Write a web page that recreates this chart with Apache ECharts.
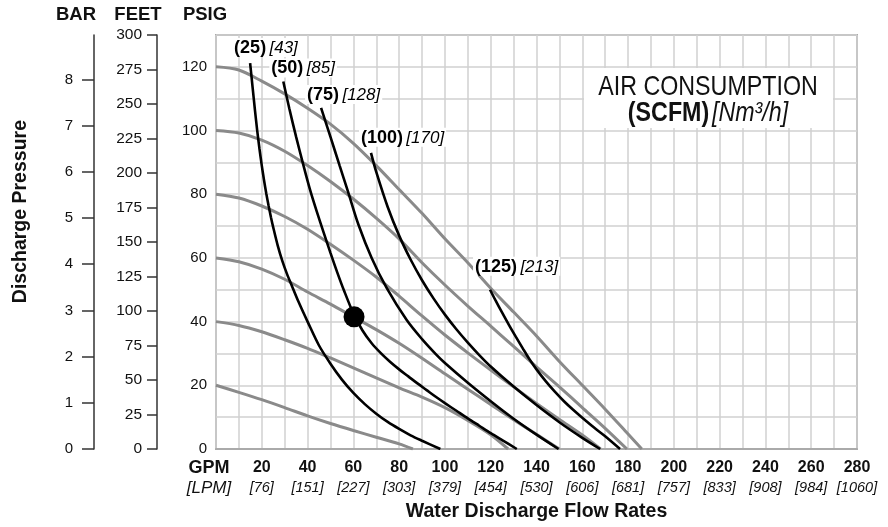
<!DOCTYPE html>
<html>
<head>
<meta charset="utf-8">
<script src="https://cdn.jsdelivr.net/npm/echarts@6/dist/echarts.min.js"></script>
<style>html,body{margin:0;padding:0;background:#fff}#c{width:888px;height:527px}</style>
</head>
<body>
<div id="c"></div>
<script>
// ---- data ----
const gpmTickLabels = [20, 40, 60, 80, 100, 120, 140, 160, 180, 200, 220, 240, 260, 280];
const lpmTickLabels = ['[76]', '[151]', '[227]', '[303]', '[379]', '[454]', '[530]', '[606]', '[681]', '[757]', '[833]', '[908]', '[984]', '[1060]'];
const psiTickLabels = [0, 20, 40, 60, 80, 100, 120];
const barTickLabels = [0, 1, 2, 3, 4, 5, 6, 7, 8];

// gray air-inlet pressure curves (PSIG)
const press120 = [[0,120],[10,119],[20,115.5],[30,111.5],[40,107],[50,102],[60,96],[70,89],[80,81.5],[90,74],[100,66],[110,58.5],[120,50.5],[130,43],[140,35.5],[150,27.5],[160,20],[170,12.5],[180,4.7],[186,0]];
const press100 = [[0,100],[10,99.2],[20,97],[30,93.5],[40,89],[50,84],[60,78.5],[70,72.5],[80,66],[90,58.5],[100,51.5],[110,44.9],[120,38.6],[130,32.2],[140,25.8],[150,19.5],[160,13],[170,6.5],[179.5,0]];
const press80 = [[0,80],[10,78.8],[20,76.3],[30,73],[40,69],[50,64.3],[60,59.3],[70,54],[80,48],[90,41.8],[100,35.8],[110,30.2],[120,24.8],[130,19.5],[140,14.3],[150,9.3],[160,4.4],[168,0]];
const press60 = [[0,60],[10,58.8],[20,56.5],[30,53.3],[40,49.3],[50,45.5],[60,41.5],[70,37.5],[80,33.2],[90,28.5],[100,23.6],[110,18.8],[120,14],[130,9.2],[140,4.6],[150,0]];
const press40 = [[0,40],[10,38.8],[20,36.8],[30,34.3],[40,31.6],[50,28.6],[60,25.5],[70,22.3],[80,19.2],[90,16.3],[100,13],[110,9],[120,4.5],[127.6,0]];
const press20 = [[0,20],[10,17.8],[20,15.5],[30,13],[40,10.4],[50,8],[60,5.8],[70,3.7],[80,1.6],[86,0]];

// black air consumption curves (SCFM)
const air25 = [[14.9,121.2],[16,113.5],[17,106.5],[18,100],[19,94.2],[20,89],[21,84.3],[22,80.1],[23,76.3],[24,72.8],[25,69.6],[27,63.8],[29,59],[31,55],[33,51.5],[36,46.3],[40,40],[45,32.5],[50,26.8],[55,21.8],[60,17.6],[65,14.1],[70,11.1],[75,8.5],[80,6.3],[85,4.3],[90,2.6],[98,0]];
const air50 = [[29.4,115.4],[32,107],[35,98],[38,89.6],[41,81.6],[44,74.6],[47,68],[50,61.6],[53,55.4],[56,49.6],[60,42.6],[64,37.2],[68,33.2],[72,30.1],[76,27.4],[80,25],[84,22.8],[88,20.6],[92,18.5],[96,16.4],[100,14.4],[105,12],[110,9.6],[115,7.3],[120,5],[125,2.8],[131.4,0]];
const air75 = [[45.9,107.1],[50,98],[54,89],[57.8,80.5],[62.2,70.5],[68,60],[74.6,50.5],[83.3,40.5],[90,34.5],[96,29.8],[100,27],[110,20.8],[120,15],[130,9.5],[140,4.5],[149.6,0]];
const air100 = [[67.7,93],[70,87],[75,76],[80,67],[85,59.5],[90,53],[95,47.3],[100,42.2],[105,37.6],[110,33.4],[115,29.5],[120,25.9],[130,19.6],[140,13.8],[150,8.4],[160,3.5],[167.8,0]];
const air125 = [[119.7,50],[122,46.8],[125,42.8],[128,38.9],[131,35.2],[134,31.6],[137,28.1],[140,25],[144,21.3],[148,18],[152,15],[156,12.3],[160,9.8],[165,6.8],[170,4],[176.5,0]];

const scfmNames = ['(25)', '(50)', '(75)', '(100)', '(125)'];
const nm3hNames = ['[43]', '[85]', '[128]', '[170]', '[213]'];
const operatingPoint = [[60.3, 41.5]];

// ---- chart ----
const chart = echarts.init(document.getElementById('c'), null, {renderer: 'canvas'});
const FONT = 'Liberation Sans, Arial, sans-serif';
const GRAY = '#8a8a8a';

const grayCurves = [press120, press100, press80, press60, press40, press20];
const blackCurves = [air25, air50, air75, air100, air125];
const labelOffsets = [[-18, -1], [-14, 1], [-16, 1], [-12, -1], [-17, -9]];

const series = [];
grayCurves.forEach((d) => {
  series.push({
    type: 'line', data: d, smooth: 0.3, symbol: 'none',
    lineStyle: {color: GRAY, width: 3}, z: 2, silent: true
  });
});
blackCurves.forEach((d, i) => {
  const data = d.map((p, j) => j === 0 ? {
    value: p,
    label: {
      show: true, position: 'top', align: 'left', offset: labelOffsets[i],
      formatter: '{b|' + scfmNames[i] + '} {i|' + nm3hNames[i] + '}',
      backgroundColor: '#fff', padding: [1, 2, 0, 2],
      rich: {
        b: {fontFamily: FONT, fontWeight: 'bold', fontSize: 18, color: '#000'},
        i: {fontFamily: FONT, fontStyle: 'italic', fontSize: 17, color: '#000'}
      }
    }
  } : p);
  series.push({
    type: 'line', data: data, smooth: 0.3, symbol: 'circle', symbolSize: 0,
    showSymbol: true, lineStyle: {color: '#000', width: 2.6}, itemStyle: {color: '#000'}, z: 3, silent: true
  });
});
series.push({
  type: 'scatter', data: operatingPoint, symbolSize: 21, itemStyle: {color: '#000', opacity: 1}, z: 5, silent: true
});

const option = {
  animation: false,
  backgroundColor: '#fff',
  grid: {left: 216, right: 31, top: 35, bottom: 77, show: true, borderColor: '#aaa', borderWidth: 2},
  graphic: [{
    type: 'text', left: 11, top: 120, rotation: Math.PI / 2, z: 10,
    style: {text: 'Discharge Pressure', fontFamily: FONT, fontWeight: 'bold', fontSize: 19.5, fill: '#111'}
  }, {
    type: 'rect', shape: {x: 584, y: 68, width: 249, height: 60}, z: 10,
    style: {fill: '#fff'}
  }, {
    type: 'text', x: 708, y: 87, scaleX: 0.83, z: 11,
    style: {text: 'AIR CONSUMPTION', fontFamily: FONT, fontSize: 28, fill: '#111', align: 'center', verticalAlign: 'middle'}
  }, {
    type: 'text', x: 708, y: 113, scaleX: 0.83, z: 11,
    style: {
      text: '{b|(SCFM)} {c|[Nm³/h]}', align: 'center', verticalAlign: 'middle',
      rich: {
        b: {fontFamily: FONT, fontSize: 28, fontWeight: 'bold', fill: '#111'},
        c: {fontFamily: FONT, fontSize: 28, fontStyle: 'italic', fill: '#111'}
      }
    }
  }],
  xAxis: {
    type: 'value', min: 0, max: 280, interval: 10,
    name: 'Water Discharge Flow Rates', nameLocation: 'middle', nameGap: 53,
    nameTextStyle: {fontFamily: FONT, fontWeight: 'bold', fontSize: 19.5, color: '#111'},
    axisLine: {show: true, lineStyle: {color: '#aaa', width: 2}},
    axisTick: {show: false},
    splitLine: {show: true, lineStyle: {color: '#d0d0d0', width: 1.5}},
    axisLabel: {
      interval: 0, margin: 9, showMaxLabel: true,
      formatter: (v) => {
        if (v === 0) return '{g|GPM}\n{gl|[LPM]}';
        const k = gpmTickLabels.indexOf(v);
        if (k < 0) return '';
        return '{n|' + gpmTickLabels[k] + '}\n{l|' + lpmTickLabels[k] + '}';
      },
      rich: {
        g: {fontFamily: FONT, fontWeight: 'bold', fontSize: 18, color: '#111', lineHeight: 20, padding: [0, 14, 0, 0]},
        gl: {fontFamily: FONT, fontStyle: 'italic', fontSize: 17, color: '#111', lineHeight: 20, padding: [0, 14, 0, 0]},
        n: {fontFamily: FONT, fontWeight: 'bold', fontSize: 16, color: '#111', lineHeight: 20},
        l: {fontFamily: FONT, fontStyle: 'italic', fontSize: 14.5, color: '#111', lineHeight: 20}
      }
    }
  },
  yAxis: [{
    type: 'value', min: 0, max: 130, interval: 10, position: 'left',
    name: 'PSIG', nameLocation: 'end', nameGap: 11,
    nameTextStyle: {fontFamily: FONT, fontWeight: 'bold', fontSize: 18.5, color: '#111', padding: [0, 22, 0, 0]},
    axisLine: {show: false}, axisTick: {show: false},
    splitLine: {show: true, lineStyle: {color: '#d0d0d0', width: 1.5}},
    axisLabel: {
      interval: 0, margin: 9, fontFamily: FONT, fontSize: 15, color: '#111',
      formatter: (v) => psiTickLabels.indexOf(v) >= 0 ? String(v) : ''
    }
  }, {
    type: 'value', min: 0, max: 300, interval: 25, position: 'left', offset: 59,
    name: 'FEET', nameLocation: 'end', nameGap: 11,
    nameTextStyle: {fontFamily: FONT, fontWeight: 'bold', fontSize: 18.5, color: '#111', padding: [0, 38, 0, 0]},
    axisLine: {show: true, lineStyle: {color: '#333', width: 1.5}},
    axisTick: {show: true, length: 10, lineStyle: {color: '#333', width: 1.5}},
    splitLine: {show: false},
    axisLabel: {margin: 15, fontFamily: FONT, fontSize: 15.5, color: '#111'}
  }, {
    type: 'value', min: 0, max: 130 / 14.5038, position: 'left', offset: 122,
    name: 'BAR', nameLocation: 'end', nameGap: 11,
    nameTextStyle: {fontFamily: FONT, fontWeight: 'bold', fontSize: 18.5, color: '#111', padding: [0, 36, 0, 0]},
    axisLine: {show: true, lineStyle: {color: '#333', width: 1.5}},
    axisTick: {show: true, length: 12, customValues: barTickLabels, lineStyle: {color: '#333', width: 1.5}},
    splitLine: {show: false},
    axisLabel: {margin: 21, fontFamily: FONT, fontSize: 15, color: '#111', customValues: barTickLabels}
  }],
  series: series
};
chart.setOption(option);
</script>
</body>
</html>
